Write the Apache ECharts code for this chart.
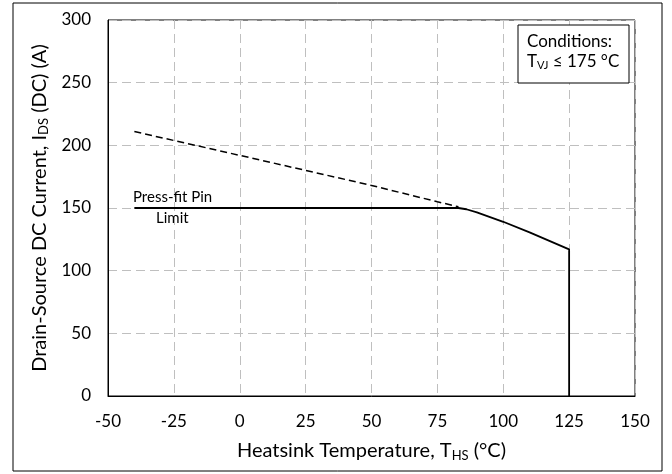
<!DOCTYPE html>
<html><head><meta charset="utf-8">
<script src="https://cdn.jsdelivr.net/npm/echarts@6/dist/echarts.min.js"></script>
<style>html,body{margin:0;padding:0;background:#fff}#c{width:672px;height:474px}</style>
</head><body><div id="c"></div>
<script>
const xTicks = [-50,-25,0,25,50,75,100,125,150];
const yTicks = [0,50,100,150,200,250,300];
const dashedSeries = [[-40,211],[0,192],[25,180],[50,168],[75,155],[83,151]];
const solidSeries = [[-40,150],[83,150],[86,149],[90,146.5],[100,139],[110,130.5],[125,117],[125,0]];
const FONT = 'Lato, "Open Sans", sans-serif';
const chart = echarts.init(document.getElementById('c'));
chart.setOption({
  animation:false,
  backgroundColor:'#fff',
  grid:{left:108,right:37,top:20,bottom:78,show:true,borderColor:'#000',borderWidth:1},
  xAxis:{type:'value',min:xTicks[0],max:xTicks[xTicks.length-1],interval:25,
    axisLine:{onZero:false,lineStyle:{color:'#000'}},axisTick:{show:false},
    axisLabel:{color:'#000',fontSize:17,fontFamily:FONT,margin:17},
    splitLine:{lineStyle:{color:'#bfbfbf',type:[9,5]}},
    name:'{t|Heatsink Temperature, T}{s|HS}{t| (°C)}',nameLocation:'middle',nameGap:44,
    nameTextStyle:{rich:{t:{fontSize:20,fontFamily:FONT,color:'#000'},s:{fontSize:13,fontFamily:FONT,color:'#000',padding:[9,0,0,0]}}}
  },
  yAxis:{type:'value',min:yTicks[0],max:yTicks[yTicks.length-1],interval:50,
    axisLine:{onZero:false,lineStyle:{color:'#000'}},axisTick:{show:false},
    axisLabel:{color:'#000',fontSize:17,fontFamily:FONT,margin:17},
    splitLine:{lineStyle:{color:'#bfbfbf',type:[9,5]}},
    name:'{t|Drain-Source DC Current, I}{s|DS}{t| (DC) (A)}',nameLocation:'middle',nameGap:55,
    nameTextStyle:{rich:{t:{fontSize:20,fontFamily:FONT,color:'#000'},s:{fontSize:13,fontFamily:FONT,color:'#000',padding:[9,0,0,0]}}}
  },
  series:[
    {type:'line',data:dashedSeries,symbol:'none',lineStyle:{color:'#000',width:1.5,type:[7,4]}},
    {type:'line',data:solidSeries,symbol:'none',lineStyle:{color:'#000',width:1.8}}
  ],
  graphic:[
    {type:'rect',shape:{x:13,y:3,width:649,height:468},style:{fill:'none',stroke:'#000',lineWidth:1}},
    {type:'rect',shape:{x:518,y:25,width:111,height:58},style:{fill:'#fff',stroke:'#000',lineWidth:1},z:10},
    {type:'text',x:527,y:33,z:11,style:{text:'Conditions:',fontSize:17,fontFamily:FONT,fill:'#000'}},
    {type:'text',x:527,y:53,z:11,style:{text:'{t|T}{s|VJ}{t| ≤ 175 °C}',fontFamily:FONT,fill:'#000',
      rich:{t:{fontSize:17,fontFamily:FONT,fill:'#000'},s:{fontSize:11,fontFamily:FONT,fill:'#000',padding:[7,0,0,0]}}}},
    {type:'text',x:133,y:190,z:11,style:{text:'Press-fit Pin',fontSize:15,fontFamily:FONT,fill:'#000'}},
    {type:'text',x:156,y:211,z:11,style:{text:'Limit',fontSize:15,fontFamily:FONT,fill:'#000'}}
  ]
});
</script></body></html>
